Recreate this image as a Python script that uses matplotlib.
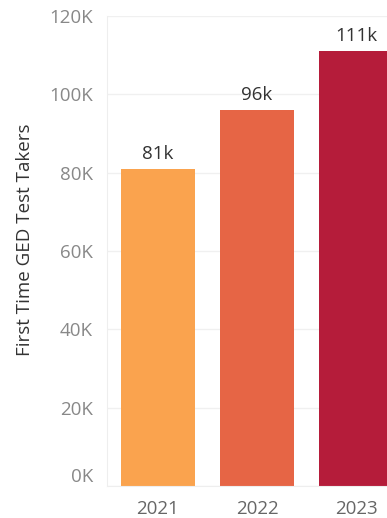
import matplotlib.pyplot as plt
import numpy as np

years = ["2021", "2022", "2023"]
takers = [81000, 96000, 111000]
bar_labels = ["81k", "96k", "111k"]
colors = ["#FAA34E", "#E66545", "#B51C3A"]
yticks = [0, 20000, 40000, 60000, 80000, 100000, 120000]
ytick_labels = ["0K", "20K", "40K", "60K", "80K", "100K", "120K"]

plt.rcParams['font.family'] = ['Open Sans', 'DejaVu Sans']

fig = plt.figure(figsize=(3.87, 5.18), dpi=100)
ax = fig.add_axes([107 / 387, 32 / 518, 1 - 107 / 387, (486 - 16) / 518])

x = np.arange(len(years))
ax.bar(x, takers, width=0.75, color=colors, zorder=2)

for xi, v, lab in zip(x, takers, bar_labels):
    ax.text(xi, v + 1500, lab, ha="center", va="bottom", fontsize=13.5, color="#333333")

ax.set_xlim(-0.515, 2.313)
ax.set_ylim(0, 120000)
ax.set_xticks(x)
ax.set_xticklabels(years, fontsize=13.5, color="#666666")
ax.set_yticks(yticks)
ax.set_yticklabels(ytick_labels, fontsize=13.5, color="#888888")
ax.tick_params(axis="y", length=0, pad=10)
ax.tick_params(axis="x", length=0, pad=10)
# bottom label sits a bit above the baseline, like the original
ax.get_yticklabels()[0].set_va("bottom")

ax.yaxis.grid(True, color="#f0f0f0", linewidth=1, zorder=0)
for s in ["top", "right"]:
    ax.spines[s].set_visible(False)
ax.spines["left"].set_color("#eeeeee")
ax.spines["bottom"].set_color("#eeeeee")

fig.text(25 / 387, 1 - 240 / 518, "First Time GED Test Takers", rotation=90,
         ha="center", va="center", fontsize=13.5, color="#333333")

fig.savefig("out.png", dpi=100)
